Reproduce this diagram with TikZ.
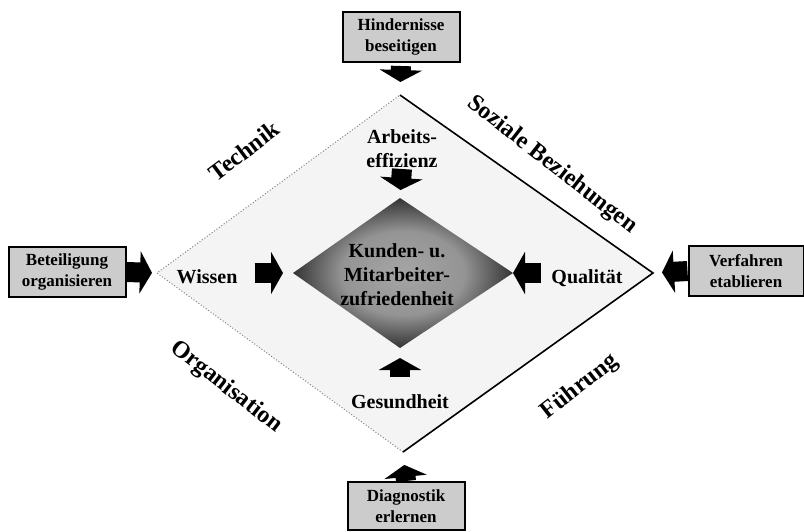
\documentclass[tikz,border=0pt]{standalone}
\usepackage{fontspec}
\setmainfont{Liberation Serif}
\usetikzlibrary{arrows.meta}
\pgfdeclareradialshading{innershade}{\pgfpoint{0bp}{0bp}}{color(0bp)=(black!35); color(14bp)=(black!42); color(28bp)=(black!90); color(50bp)=(black)}
\begin{document}
\begin{tikzpicture}[x=1pt,y=-1pt,
  lbl/.style={font=\bfseries\fontsize{20}{24}\selectfont, inner sep=0pt, align=center},
  side/.style={font=\bfseries\fontsize{24}{28}\selectfont, inner sep=0pt},
  boxlbl/.style={draw=black, line width=2pt, fill=gray!40, font=\bfseries\fontsize{17}{21}\selectfont, align=center, minimum width=117pt, minimum height=50pt, inner sep=0pt},
  bigarrow/.style={line width=20pt, -{Triangle[length=12pt,width=42pt]}},
  ]
\useasboundingbox (0,0) rectangle (804,531);
% outer diamond
\coordinate (Dt) at (400,95);
\coordinate (Dr) at (653,273);
\coordinate (Db) at (403,452);
\coordinate (Dl) at (157,273);
\fill[gray!9] (Dt)--(Dr)--(Db)--(Dl)--cycle;
\draw[gray, dotted, line width=1pt] (Db)--(Dl)--(Dt);
\draw[line width=1.6pt] (Dt)--(Dr)--(Db);
% inner diamond
\coordinate (It) at (400,198);
\coordinate (Ir) at (513,273);
\coordinate (Ib) at (400,348);
\coordinate (Il) at (293,273);
\shade[shading=innershade] (It)--(Ir)--(Ib)--(Il)--cycle;
\node[lbl] (kz) at (397,275) {Kunden- u.\\Mitarbeiter-\\zufriedenheit};
% boxes
\node[boxlbl] (hb) at (401,37) {Hindernisse\\beseitigen};
\node[boxlbl] (bo) at (67,272) {Beteiligung\\organisieren};
\node[boxlbl, minimum width=115pt] (vf) at (746,271) {Verfahren\\etablieren};
\node[boxlbl, minimum height=48pt] (dg) at (406,506) {Diagnostik\\erlernen};
\draw[bigarrow, shorten <=3pt, shorten >=13pt] (hb.south) -- (Dt);
\draw[bigarrow, shorten >=5pt] (bo.east) -- (Dl);
\draw[bigarrow, shorten >=9pt] (vf.west) -- (Dr);
\draw[bigarrow, shorten >=13pt] (dg.north) -- (Db);
% inner labels
\node[lbl, anchor=south] (ae) at (402,168) {Arbeits-\\effizienz};
\node[lbl, anchor=base] (wi) at (207,283) {Wissen};
\node[lbl, anchor=base] (qu) at (587,283) {Qualität};
\node[lbl, anchor=base] (ge) at (400,408) {Gesundheit};
\draw[bigarrow, shorten <=1pt, shorten >=8pt] (ae.south) -- (It);
\draw[bigarrow, shorten <=17pt, shorten >=10pt] (wi.east |- Il) -- (Il);
\draw[bigarrow, shorten <=10pt, shorten >=0pt] (qu.west |- Ir) -- (Ir);
\draw[bigarrow, shorten <=17pt, shorten >=10pt] (ge.north) -- (Ib);
% side labels
\node[side, rotate=37] (te) at (244,151) {Technik};
\node[side, rotate=-38] (sb) at (552,165) {Soziale Beziehungen};
\node[side, rotate=-38] (or) at (226,387) {Organisation};
\node[side, rotate=38] (fu) at (580,387) {Führung};
\end{tikzpicture}
\end{document}
